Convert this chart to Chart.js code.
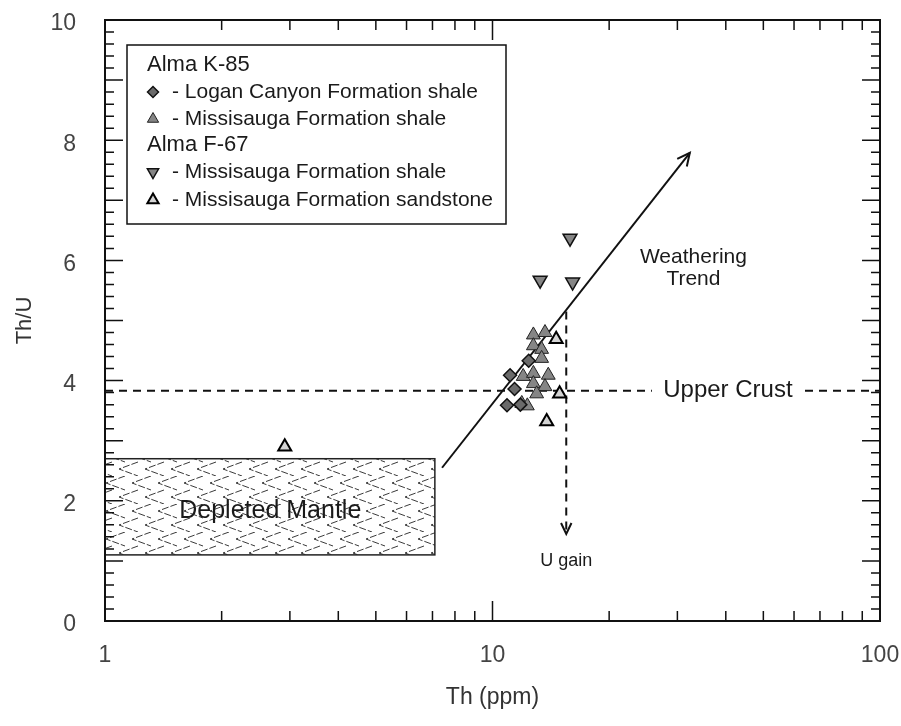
<!DOCTYPE html>
<html>
<head>
<meta charset="utf-8">
<script src="https://cdn.jsdelivr.net/npm/chart.js@4"></script>
<style>
  html, body { margin: 0; padding: 0; background: #fff; }
</style>
</head>
<body>
<canvas id="thu-chart" width="901" height="726"></canvas>
<script>
// --- DATA ---
const loganShaleTh  = [11.1, 11.4, 10.9, 12.4, 11.8];
const loganShaleThU = [4.09, 3.86, 3.59, 4.33, 3.60];

const k85ShaleTh  = [12.75, 13.66, 12.75, 13.39, 13.39, 12.0, 12.75, 13.93, 12.75, 13.66, 13.0, 11.9, 12.3];
const k85ShaleThU = [4.76, 4.80, 4.58, 4.52, 4.37, 4.07, 4.12, 4.09, 3.95, 3.90, 3.78, 3.62, 3.58];

const f67ShaleTh  = [15.85, 13.27, 16.1];
const f67ShaleThU = [6.37, 5.67, 5.64];

const f67SandTh  = [2.91, 14.6, 14.9, 13.8];
const f67SandThU = [2.90, 4.69, 3.78, 3.32];

const trendTh  = [7.41, 32.3];
const trendThU = [2.55, 7.79];

const upperCrustThU = 3.83;
const uGainTh = 15.5;
const uGainThU = [5.15, 1.45];

const mantleTh  = [1, 7.1];
const mantleThU = [1.10, 2.70];

const xTickLabels = [1, 10, 100];
const yTickLabels = [0, 2, 4, 6, 8, 10];

const legendGroups = ['Alma K-85', 'Alma F-67'];

// --- STYLE ---
const FONT = '"Liberation Sans", Arial, Helvetica, sans-serif';

// --- HELPERS ---
function makeHerringbone() {
    // rows of "<" chevrons, every other row shifted by half a period
    const c = document.createElement('canvas');
    c.width = 26; c.height = 28;
    const g = c.getContext('2d');
    g.strokeStyle = '#3a3a3a';
    g.lineWidth = 1;
    g.setLineDash([7, 2]);
    const chevron = (ox, oy) => {
        g.beginPath();
        g.moveTo(ox + 19, oy);
        g.lineTo(ox, oy + 7);
        g.lineTo(ox + 19, oy + 14);
        g.stroke();
    };
    for (const dx of [-26, 0, 26]) {
        chevron(dx + 2, 0);
        chevron(dx + 15, 14);
    }
    return c;
}

function drawText(ctx, text, x, y, size, align, color) {
    ctx.save();
    ctx.font = size + 'px ' + FONT;
    ctx.textAlign = align || 'center';
    ctx.textBaseline = 'middle';
    ctx.fillStyle = color || '#1a1a1a';
    ctx.fillText(text, x, y);
    ctx.restore();
}

function openHead(ctx, x1, y1, x2, y2, len) {
    const a = Math.atan2(y2 - y1, x2 - x1);
    ctx.beginPath();
    ctx.moveTo(x2 - len * Math.cos(a - 0.45), y2 - len * Math.sin(a - 0.45));
    ctx.lineTo(x2, y2);
    ctx.lineTo(x2 - len * Math.cos(a + 0.45), y2 - len * Math.sin(a + 0.45));
    ctx.stroke();
}

function isDecade(v) {
    const l = Math.log10(v);
    return Math.abs(l - Math.round(l)) < 1e-9;
}

// --- PLUGINS ---
const mantleBox = {
    id: 'mantleBox',
    beforeDatasetsDraw(chart) {
        const { ctx, scales: { x, y } } = chart;
        const l = x.getPixelForValue(mantleTh[0]), r = x.getPixelForValue(mantleTh[1]);
        const t = y.getPixelForValue(mantleThU[1]), b = y.getPixelForValue(mantleThU[0]);
        ctx.save();
        ctx.fillStyle = ctx.createPattern(makeHerringbone(), 'repeat');
        ctx.fillRect(l, t, r - l, b - t);
        ctx.strokeStyle = '#222';
        ctx.lineWidth = 1.5;
        ctx.strokeRect(l, t, r - l, b - t);
        ctx.restore();
        drawText(ctx, 'Depleted Mantle', x.getPixelForValue(2.67), y.getPixelForValue(1.83), 25);
    }
};

const decorations = {
    id: 'decorations',
    afterDatasetsDraw(chart) {
        const { ctx, scales: { x, y } } = chart;
        ctx.save();
        ctx.strokeStyle = '#111';
        ctx.lineWidth = 2;
        // weathering arrow head
        openHead(ctx, x.getPixelForValue(trendTh[0]), y.getPixelForValue(trendThU[0]),
                 x.getPixelForValue(trendTh[1]), y.getPixelForValue(trendThU[1]), 14);
        // U gain arrow head
        const ux = x.getPixelForValue(uGainTh);
        openHead(ctx, ux, y.getPixelForValue(uGainThU[0]), ux, y.getPixelForValue(uGainThU[1]), 12);
        ctx.restore();

        drawText(ctx, 'Weathering', x.getPixelForValue(33), y.getPixelForValue(6.05), 21);
        drawText(ctx, 'Trend', x.getPixelForValue(33), y.getPixelForValue(5.68), 21);
        drawText(ctx, 'U gain', ux, y.getPixelForValue(1.0), 18);

        // Upper Crust label over the dashed line
        const cx = x.getPixelForValue(40.5), cy = y.getPixelForValue(upperCrustThU);
        ctx.save();
        ctx.fillStyle = '#fff';
        ctx.fillRect(cx - 76, cy - 13, 152, 26);
        ctx.restore();
        drawText(ctx, 'Upper Crust', cx, cy, 24);
    },
    afterDraw(chart) {
        const { ctx, chartArea: a, scales: { x, y } } = chart;
        ctx.save();
        ctx.strokeStyle = '#111';
        ctx.lineWidth = 2;
        ctx.strokeRect(a.left, a.top, a.right - a.left, a.bottom - a.top);
        ctx.lineWidth = 1.5;
        ctx.beginPath();
        // x ticks, top and bottom
        for (const d of [1, 10]) {
            for (let k = 2; k <= 10; k++) {
                const v = k * d;
                if (v >= 100) continue;
                const px = x.getPixelForValue(v);
                const len = isDecade(v) ? 20 : 10;
                ctx.moveTo(px, a.bottom); ctx.lineTo(px, a.bottom - len);
                ctx.moveTo(px, a.top); ctx.lineTo(px, a.top + len);
            }
        }
        // y ticks, left and right
        for (let i = 1; i < 50; i++) {
            const v = i * 0.2;
            const py = y.getPixelForValue(v);
            const len = i % 5 === 0 ? 18 : 9;
            ctx.moveTo(a.left, py); ctx.lineTo(a.left + len, py);
            ctx.moveTo(a.right, py); ctx.lineTo(a.right - len, py);
        }
        ctx.stroke();
        ctx.restore();

        // legend
        const box = { l: 127, t: 45, r: 506, b: 224 };
        ctx.save();
        ctx.fillStyle = '#fff';
        ctx.fillRect(box.l, box.t, box.r - box.l, box.b - box.t);
        ctx.strokeStyle = '#111';
        ctx.lineWidth = 1.5;
        ctx.strokeRect(box.l, box.t, box.r - box.l, box.b - box.t);
        ctx.restore();

        const rows = [65, 92, 119, 145, 172, 200];
        const entries = [
            { head: legendGroups[0] },
            { ds: 0 }, { ds: 1 },
            { head: legendGroups[1] },
            { ds: 2 }, { ds: 3 }
        ];
        entries.forEach((e, i) => {
            if (e.head) {
                drawText(ctx, e.head, 147, rows[i], 22, 'left');
                return;
            }
            const ds = chart.data.datasets[e.ds];
            ctx.save();
            ctx.fillStyle = ds.backgroundColor;
            ctx.strokeStyle = ds.borderColor;
            ctx.lineWidth = ds.borderWidth;
            Chart.helpers.drawPoint(ctx, {
                pointStyle: ds.pointStyle,
                rotation: ds.rotation || 0,
                radius: ds.pointStyle === 'rectRot' ? 5.5 : 6.5,
                borderWidth: ds.borderWidth
            }, 153, rows[i]);
            ctx.restore();
            drawText(ctx, '- ' + ds.label, 172, rows[i], 21, 'left');
        });
    }
};

// --- CHART ---
const toPoints = (xs, ys) => xs.map((v, i) => ({ x: v, y: ys[i] }));

new Chart(document.getElementById('thu-chart'), {
    type: 'scatter',
    data: {
        datasets: [
            {
                label: 'Logan Canyon Formation shale',
                data: toPoints(loganShaleTh, loganShaleThU),
                pointStyle: 'rectRot', pointRadius: 6.5,
                backgroundColor: '#6a6a6a', borderColor: '#111', borderWidth: 1.5,
                order: 1
            },
            {
                label: 'Missisauga Formation shale',
                data: toPoints(k85ShaleTh, k85ShaleThU),
                pointStyle: 'triangle', pointRadius: 8,
                backgroundColor: '#858585', borderColor: '#222', borderWidth: 1,
                order: 1
            },
            {
                label: 'Missisauga Formation shale',
                data: toPoints(f67ShaleTh, f67ShaleThU),
                pointStyle: 'triangle', rotation: 180, pointRotation: 180, pointRadius: 8,
                backgroundColor: '#858585', borderColor: '#111', borderWidth: 1.5,
                order: 1
            },
            {
                label: 'Missisauga Formation sandstone',
                data: toPoints(f67SandTh, f67SandThU),
                pointStyle: 'triangle', pointRadius: 7.5,
                backgroundColor: '#d4d4d4', borderColor: '#000', borderWidth: 2,
                order: 1
            },
            {
                label: 'Weathering Trend',
                data: toPoints(trendTh, trendThU),
                showLine: true, pointRadius: 0, borderColor: '#111', borderWidth: 2,
                order: 5
            },
            {
                label: 'Upper Crust',
                data: [{ x: 1, y: upperCrustThU }, { x: 100, y: upperCrustThU }],
                showLine: true, pointRadius: 0, borderColor: '#111', borderWidth: 2,
                borderDash: [8, 6], order: 5
            },
            {
                label: 'U gain',
                data: uGainThU.map(v => ({ x: uGainTh, y: v })),
                showLine: true, pointRadius: 0, borderColor: '#111', borderWidth: 2,
                borderDash: [8, 6], order: 5
            }
        ]
    },
    options: {
        responsive: false,
        animation: false,
        layout: { padding: { top: 20, right: 21, left: 0, bottom: 0 } },
        plugins: { legend: { display: false }, tooltip: { enabled: false } },
        scales: {
            x: {
                type: 'logarithmic', min: 1, max: 100,
                grid: { display: false, drawTicks: false },
                border: { display: false },
                ticks: {
                    autoSkip: false, maxRotation: 0, padding: 21,
                    color: '#444', font: { family: FONT, size: 23 },
                    callback: v => xTickLabels.some(t => Math.abs(t - v) < 1e-9) ? String(v) : ''
                },
                title: {
                    display: true, text: 'Th (ppm)', color: '#333',
                    font: { family: FONT, size: 23 }, padding: { top: 0, bottom: 15 }
                },
                afterFit: s => {
                    s.height = 105;
                    s.paddingLeft = 0; s.paddingRight = 0;
                }
            },
            y: {
                min: 0, max: 10,
                grid: { display: false, drawTicks: false },
                border: { display: false },
                ticks: {
                    stepSize: 2, padding: 29, labelOffset: 4,
                    color: '#444', font: { family: FONT, size: 23 },
                    callback: v => yTickLabels.includes(v) ? String(v) : ''
                },
                title: {
                    display: true, text: 'Th/U', color: '#333',
                    font: { family: FONT, size: 22 }, padding: { top: 12, bottom: 0 }
                },
                afterFit: s => {
                    s.width = 105;
                    s.paddingTop = 0; s.paddingBottom = 0;
                }
            }
        }
    },
    plugins: [mantleBox, decorations]
});
</script>
</body>
</html>
